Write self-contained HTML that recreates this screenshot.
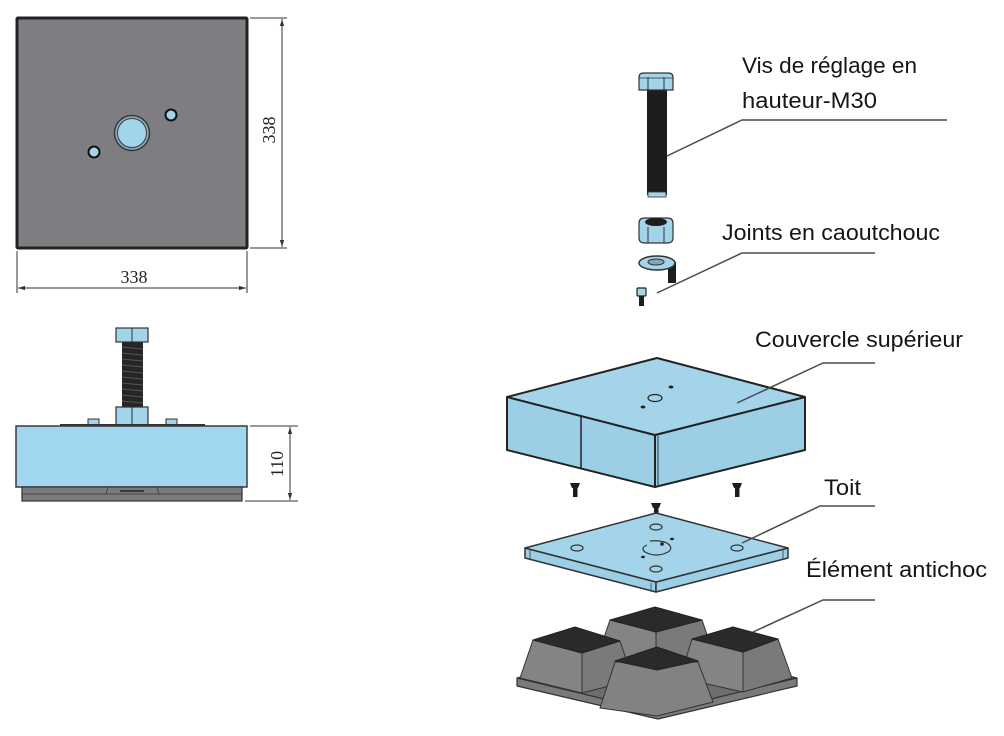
<!DOCTYPE html>
<html>
<head>
<meta charset="utf-8">
<style>
  html,body{margin:0;padding:0;background:#fff;}
  svg{display:block;}
  .lbl{font-family:"Liberation Sans",sans-serif;font-size:22px;fill:#151515;}
  .dim{font-family:"Liberation Serif",serif;font-size:18px;fill:#222;}
</style>
</head>
<body>
<svg width="1004" height="736" viewBox="0 0 1004 736" xmlns="http://www.w3.org/2000/svg">
  <defs>
    <marker id="arr" viewBox="0 0 10 10" refX="10" refY="5" markerWidth="7" markerHeight="7" orient="auto-start-reverse">
      <path d="M0,2 L10,5 L0,8 z" fill="#333"/>
    </marker>
  </defs>
  <rect x="0" y="0" width="1004" height="736" fill="#fff"/>

  <!-- ============ TOP VIEW (left) ============ -->
  <rect x="17" y="18" width="230" height="230" fill="#7e7e82" stroke="#222" stroke-width="3" rx="1"/>
  <circle cx="132" cy="133" r="17.5" fill="#8aa9b6" stroke="#3a3a3a" stroke-width="1.5"/>
  <circle cx="132" cy="133" r="14.5" fill="#a2d4ea" stroke="#3a3a3a" stroke-width="1"/>
  <circle cx="171" cy="115" r="5.5" fill="#a2d4ea" stroke="#111" stroke-width="2"/>
  <circle cx="94" cy="152" r="5.5" fill="#a2d4ea" stroke="#111" stroke-width="2"/>

  <!-- dims top view -->
  <g stroke="#333" stroke-width="1" fill="none">
    <line x1="17" y1="251" x2="17" y2="293"/>
    <line x1="247" y1="251" x2="247" y2="293"/>
    <line x1="18" y1="288" x2="246" y2="288" marker-start="url(#arr)" marker-end="url(#arr)"/>
    <line x1="250" y1="18" x2="287" y2="18"/>
    <line x1="250" y1="248" x2="287" y2="248"/>
    <line x1="282" y1="19" x2="282" y2="247" marker-start="url(#arr)" marker-end="url(#arr)"/>
  </g>
  <text class="dim" x="134" y="283" text-anchor="middle">338</text>
  <text class="dim" transform="translate(275,130) rotate(-90)" text-anchor="middle">338</text>

  <!-- ============ SIDE VIEW (left) ============ -->
  <!-- bolt shaft -->
  <rect x="122" y="342" width="21" height="65" fill="#262626"/>
  <g stroke="#555" stroke-width="1">
    <line x1="122" y1="347" x2="143" y2="349"/>
    <line x1="122" y1="353" x2="143" y2="355"/>
    <line x1="122" y1="359" x2="143" y2="361"/>
    <line x1="122" y1="365" x2="143" y2="367"/>
    <line x1="122" y1="371" x2="143" y2="373"/>
    <line x1="122" y1="377" x2="143" y2="379"/>
    <line x1="122" y1="383" x2="143" y2="385"/>
    <line x1="122" y1="389" x2="143" y2="391"/>
    <line x1="122" y1="395" x2="143" y2="397"/>
    <line x1="122" y1="401" x2="143" y2="403"/>
  </g>
  <!-- bolt head -->
  <rect x="116" y="328" width="32" height="14" fill="#a2d4ea" stroke="#333" stroke-width="1.2"/>
  <line x1="132" y1="328" x2="132" y2="342" stroke="#333" stroke-width="1"/>
  <!-- lower nut -->
  <rect x="116" y="407" width="32" height="19" fill="#a2d4ea" stroke="#333" stroke-width="1.2"/>
  <line x1="132" y1="407" x2="132" y2="426" stroke="#333" stroke-width="1"/>
  <!-- small nuts -->
  <rect x="88" y="419" width="11" height="7" fill="#a2d4ea" stroke="#333" stroke-width="1"/>
  <rect x="166" y="419" width="11" height="7" fill="#a2d4ea" stroke="#333" stroke-width="1"/>
  <line x1="60" y1="425" x2="205" y2="425" stroke="#333" stroke-width="2"/>
  <!-- blue body -->
  <rect x="16" y="426" width="231" height="61" fill="#a0d6ee" stroke="#3a3a3a" stroke-width="1.5"/>
  <!-- base -->
  <rect x="22" y="487" width="220" height="14" fill="#7b7b7d" stroke="#333" stroke-width="1.2"/>
  <line x1="22" y1="494" x2="242" y2="494" stroke="#444" stroke-width="1"/>
  <line x1="108" y1="487" x2="106" y2="494" stroke="#444" stroke-width="1"/>
  <line x1="157" y1="487" x2="159" y2="494" stroke="#444" stroke-width="1"/>
  <line x1="120" y1="491" x2="144" y2="491" stroke="#222" stroke-width="1.5"/>

  <!-- dim 110 -->
  <g stroke="#333" stroke-width="1" fill="none">
    <line x1="250" y1="426" x2="298" y2="426"/>
    <line x1="245" y1="501" x2="298" y2="501"/>
    <line x1="290" y1="427" x2="290" y2="500" marker-start="url(#arr)" marker-end="url(#arr)"/>
  </g>
  <text class="dim" transform="translate(283,464) rotate(-90)" text-anchor="middle">110</text>

  <!-- ============ EXPLODED VIEW (right) ============ -->
  <!-- big bolt -->
  <rect x="647" y="88" width="20" height="107" fill="#1d1d1d"/>
  <rect x="648" y="192" width="18" height="5" fill="#a2d4ea" stroke="#333" stroke-width="0.8"/>
  <path d="M639,77 Q639,73 644,73 L668,73 Q673,73 673,77 L673,90 L639,90 Z" fill="#a2d4ea" stroke="#333" stroke-width="1.2"/>
  <line x1="648" y1="77" x2="648" y2="90" stroke="#333" stroke-width="1"/>
  <line x1="664" y1="77" x2="664" y2="90" stroke="#333" stroke-width="1"/>
  <line x1="639" y1="78" x2="673" y2="78" stroke="#333" stroke-width="0.8"/>

  <!-- nut -->
  <path d="M639,223 Q639,218 645,218 L667,218 Q673,218 673,223 L673,238 Q673,243 667,243 L645,243 Q639,243 639,238 Z" fill="#a2d4ea" stroke="#333" stroke-width="1.2"/>
  <ellipse cx="656" cy="222" rx="11" ry="4" fill="#1d1d1d"/>
  <line x1="648" y1="227" x2="648" y2="243" stroke="#333" stroke-width="1"/>
  <line x1="664" y1="227" x2="664" y2="243" stroke="#333" stroke-width="1"/>

  <!-- small screw behind washer -->
  <rect x="668" y="262" width="8" height="21" fill="#1d1d1d"/>
  <!-- washer -->
  <ellipse cx="657" cy="263" rx="18" ry="7" fill="#a2d4ea" stroke="#333" stroke-width="1.5"/>
  <ellipse cx="656" cy="262" rx="8" ry="3" fill="#7fa9b8" stroke="#333" stroke-width="1"/>
  <!-- small screw -->
  <rect x="637" y="288" width="9" height="8" rx="1" fill="#a2d4ea" stroke="#222" stroke-width="1.2"/>
  <rect x="639" y="296" width="5" height="10" fill="#1d1d1d"/>

  <!-- cover box -->
  <polygon points="507,397 655,435 655,487 507,450" fill="#9ccfe5" stroke="#222" stroke-width="2" stroke-linejoin="round"/>
  <polygon points="655,435 805,397 805,450 655,487" fill="#9ccfe5" stroke="#222" stroke-width="2" stroke-linejoin="round"/>
  <polygon points="507,397 657,358 805,397 655,435" fill="#a3d4e9" stroke="#222" stroke-width="2" stroke-linejoin="round"/>
  <line x1="581" y1="417" x2="581" y2="468" stroke="#222" stroke-width="1.5"/>
  <line x1="658" y1="436" x2="658" y2="486" stroke="#333" stroke-width="1"/>
  <ellipse cx="655" cy="398" rx="7" ry="3.5" fill="none" stroke="#222" stroke-width="1.2"/>
  <ellipse cx="671" cy="387" rx="2.5" ry="1.5" fill="#222"/>
  <ellipse cx="643" cy="407" rx="2.5" ry="1.5" fill="#222"/>

  <!-- screws between -->
  <g fill="#1d1d1d">
    <path d="M570,483 L580,483 L578,488 L572,488 Z"/><rect x="573" y="487" width="4.5" height="10"/>
    <path d="M732,483 L742,483 L740,488 L734,488 Z"/><rect x="735" y="487" width="4.5" height="10"/>
    <path d="M651,503 L661,503 L659,508 L653,508 Z"/><rect x="654" y="507" width="4.5" height="10"/>
  </g>

  <!-- plate (Toit) -->
  <polygon points="525,548 656,582 656,592 525,558" fill="#9ccfe5" stroke="#333" stroke-width="1.5" stroke-linejoin="round"/>
  <polygon points="656,582 788,548 788,558 656,592" fill="#9ccfe5" stroke="#333" stroke-width="1.5" stroke-linejoin="round"/>
  <polygon points="525,548 656,513 788,548 656,582" fill="#a3d4e9" stroke="#333" stroke-width="1.5" stroke-linejoin="round"/>
  <line x1="530" y1="550" x2="530" y2="559" stroke="#555" stroke-width="1"/>
  <line x1="651" y1="583" x2="651" y2="592" stroke="#555" stroke-width="1"/>
  <line x1="783" y1="550" x2="783" y2="559" stroke="#555" stroke-width="1"/>
  <g fill="none" stroke="#333" stroke-width="1.2">
    <ellipse cx="577" cy="548" rx="6" ry="3"/>
    <ellipse cx="737" cy="548" rx="6" ry="3"/>
    <ellipse cx="656" cy="527" rx="6" ry="3"/>
    <ellipse cx="656" cy="569" rx="6" ry="3"/>
    <path d="M647,545 Q640,548 645,552 Q656,558 668,552 Q674,548 667,543 Q660,540 650,541"/>
  </g>
  <ellipse cx="672" cy="539" rx="2" ry="1.2" fill="#222"/>
  <ellipse cx="643" cy="557" rx="2" ry="1.2" fill="#222"/>
  <circle cx="662" cy="544" r="1.8" fill="#222"/>

  <!-- antichoc base -->
  <polygon points="517,678 656,642 797,678 658,712" fill="#6e6e70" stroke="#333" stroke-width="1.2"/>
  <polygon points="517,678 658,712 797,678 797,686 658,719 517,686" fill="#7a7a7c" stroke="#333" stroke-width="1.2" stroke-linejoin="round"/>

  <!-- back block -->
  <polygon points="610,620 656,632 656,672 597,658" fill="#848486" stroke="#333" stroke-width="1"/>
  <polygon points="656,632 702,620 715,658 656,672" fill="#7a7a7c" stroke="#333" stroke-width="1"/>
  <polygon points="610,620 655,607 702,620 656,632" fill="#2a2a2a" stroke="#222" stroke-width="1" stroke-linejoin="round"/>

  <!-- left block -->
  <polygon points="533,640 582,653 582,693 520,678" fill="#848486" stroke="#333" stroke-width="1"/>
  <polygon points="582,653 620,641 633,680 582,693" fill="#7a7a7c" stroke="#333" stroke-width="1"/>
  <polygon points="533,640 575,627 620,641 582,653" fill="#2a2a2a" stroke="#222" stroke-width="1" stroke-linejoin="round"/>

  <!-- right block -->
  <polygon points="692,639 743,652 743,692 680,678" fill="#848486" stroke="#333" stroke-width="1"/>
  <polygon points="743,652 778,639 792,678 743,692" fill="#7a7a7c" stroke="#333" stroke-width="1"/>
  <polygon points="692,639 733,627 778,639 743,652" fill="#2a2a2a" stroke="#222" stroke-width="1" stroke-linejoin="round"/>

  <!-- front block -->
  <polygon points="615,662 698,662 713,702 657,716 600,708" fill="#828284" stroke="#333" stroke-width="1"/>
  <polygon points="615,661 657,647 698,661 657,670" fill="#2a2a2a" stroke="#222" stroke-width="1" stroke-linejoin="round"/>

  <!-- leader lines -->
  <g fill="none" stroke="#4a4a4a" stroke-width="1.5">
    <polyline points="947,120 742,120 667,156"/>
    <polyline points="875,253 742,253 657,293"/>
    <polyline points="875,363 823,363 737,403"/>
    <polyline points="875,506 820,506 742,543"/>
    <polyline points="875,600 823,600 753,632"/>
  </g>

  <!-- labels -->
  <text class="lbl" x="742" y="73" textLength="175" lengthAdjust="spacingAndGlyphs">Vis de réglage en</text>
  <text class="lbl" x="742" y="108" textLength="135" lengthAdjust="spacingAndGlyphs">hauteur-M30</text>
  <text class="lbl" x="722" y="240" textLength="218" lengthAdjust="spacingAndGlyphs">Joints en caoutchouc</text>
  <text class="lbl" x="755" y="347" textLength="208" lengthAdjust="spacingAndGlyphs">Couvercle supérieur</text>
  <text class="lbl" x="824" y="495" textLength="37" lengthAdjust="spacingAndGlyphs">Toit</text>
  <text class="lbl" x="806" y="577" textLength="181" lengthAdjust="spacingAndGlyphs">Élément antichoc</text>
</svg>
</body>
</html>
